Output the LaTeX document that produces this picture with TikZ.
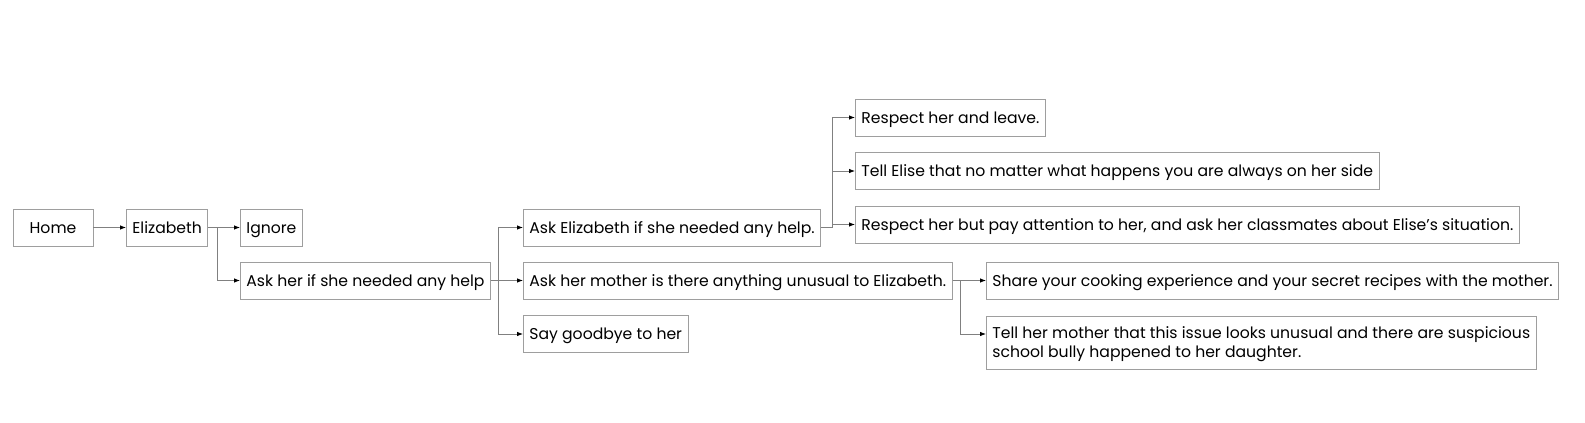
\documentclass[tikz,border=0pt]{standalone}
\usepackage{fontspec}
\setmainfont{Poppins}
\usetikzlibrary{arrows.meta,positioning}
\colorlet{boxgray}{black!38}
\colorlet{linegray}{black!50}
\tikzstyle{choice}=[draw=boxgray,line width=.8pt,anchor=west,inner xsep=6pt,
  minimum height=37pt,font=\fontsize{15.65}{19}\selectfont,align=left]
\tikzstyle{oneline}=[choice,text height=15pt,text depth=3.5pt]
\tikzstyle{link}=[draw=linegray,line width=.8pt,
  -{Latex[length=6pt,width=4.5pt,color=black]}]

\begin{document}
\begin{tikzpicture}[x=1pt, y=-1pt]
  \useasboundingbox (0,0) rectangle (1585,423);

  \node[oneline, anchor=center, minimum width=80pt, align=center] (home) at (53,227.5) {Home};
  \node[oneline] (eliz) at (126,227.5) {Elizabeth};
  \node[oneline] (ignore) at (240,227.5) {Ignore};
  \node[oneline] (askhelp) at (240,280.5) {Ask her if she needed any help};

  \node[oneline] (askeliz) at (523,227.5) {Ask Elizabeth if she needed any help.};
  \node[oneline] (askmom) at (523,280.5) {Ask her mother is there anything unusual to Elizabeth.};
  \node[oneline] (bye) at (523,334) {Say goodbye to her};

  \node[oneline] (respleave) at (855,117.5) {Respect her and leave.};
  \node[oneline] (tellelise) at (855,171) {Tell Elise that no matter what happens you are always on her side};
  \node[oneline] (respbut) at (855,224.5) {Respect her but pay attention to her, and ask her classmates about Elise’s situation.};

  \node[oneline] (share) at (986,280.5) {Share your cooking experience and your secret recipes with the mother.};
  \node[choice, minimum height=53pt] (tellmom) at (986,342.5) {\rule{0pt}{15.5pt}Tell her mother that this issue looks unusual and there are suspicious\\school bully happened to her daughter.};
  \coordinate (tellin) at ([yshift=8.5pt]tellmom.west);

  \draw[link] (home) -- (eliz);
  \draw[link] (eliz) -- (ignore);
  \draw[link] (eliz.east) -- ++(9,0) |- (askhelp.west);

  \draw[link] (askhelp.east) -- ++(7,0) |- (askeliz.west);
  \draw[link] (askhelp) -- (askmom);
  \draw[link] (askhelp.east) -- ++(7,0) |- (bye.west);

  \draw[link] (askeliz.east) -- ++(11,0) |- (respleave.west);
  \draw[link] (askeliz.east) -- ++(11,0) |- (tellelise.west);
  \draw[link] (askeliz.east) -- ++(11,0) |- (respbut.west);

  \draw[link] (askmom) -- (share);
  \draw[link] (askmom.east) -- ++(8,0) |- (tellin);
\end{tikzpicture}
\end{document}
